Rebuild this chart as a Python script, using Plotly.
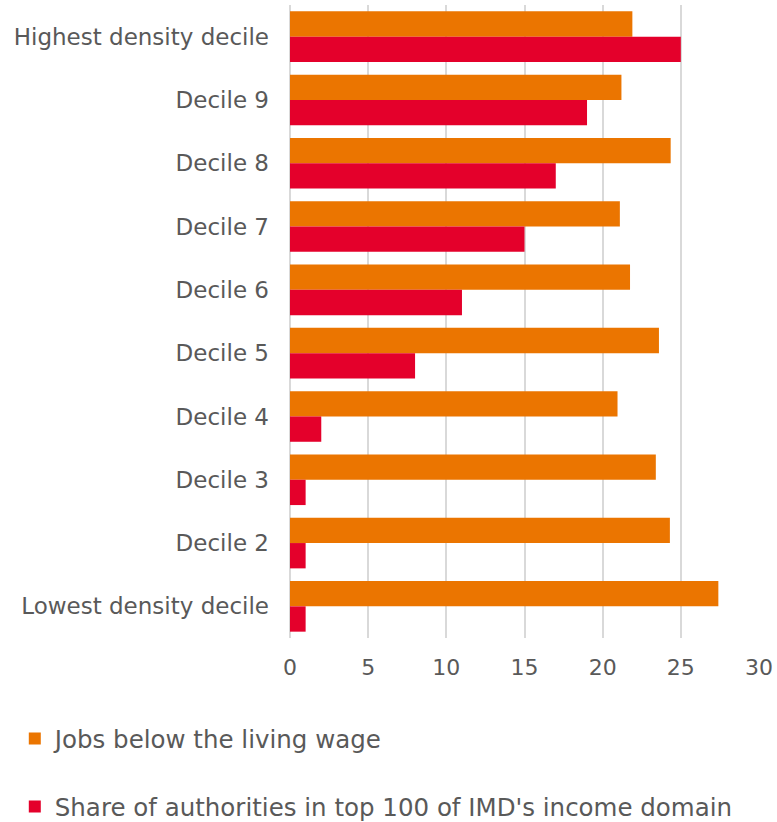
import plotly.graph_objects as go

categories = ["Highest density decile", "Decile 9", "Decile 8", "Decile 7", "Decile 6",
              "Decile 5", "Decile 4", "Decile 3", "Decile 2", "Lowest density decile"]
jobs_below_living_wage = [21.9, 21.2, 24.35, 21.1, 21.75, 23.6, 20.95, 23.4, 24.3, 27.4]
share_top100_imd_income = [25, 19, 17, 15, 11, 8, 2, 1, 1, 1]
x_ticks = [0, 5, 10, 15, 20, 25, 30]

FONT = "DejaVu Sans"
GREY = "#595959"

fig = go.Figure()
fig.add_trace(go.Bar(
    y=categories, x=jobs_below_living_wage, orientation="h",
    name="Jobs below the living wage", marker=dict(color="#EB7500", line=dict(width=0)),
    legend="legend",
))
fig.add_trace(go.Bar(
    y=categories, x=share_top100_imd_income, orientation="h",
    name="Share of authorities in top 100 of IMD's income domain",
    marker=dict(color="#E4002B", line=dict(width=0)),
    legend="legend2",
))

L, R, T, B = 289.5, 18, 5.4, 184.4
plot_h = 822 - T - B
plot_w = 777 - L - R

def py(pix):
    return (822 - B - pix) / plot_h

def px(pix):
    return (pix - L) / plot_w

fig.update_layout(
    width=777, height=822,
    margin=dict(l=L, r=R, t=T, b=B, autoexpand=False),
    plot_bgcolor="white", paper_bgcolor="white",
    barmode="group", bargap=0.2, bargroupgap=0,
    font=dict(family=FONT, size=22, color=GREY),
    xaxis=dict(range=[0, 30], tickvals=x_ticks, showgrid=True, gridcolor="#d9d9d9",
               gridwidth=2, zeroline=True, zerolinecolor="#d9d9d9", zerolinewidth=2,
               showline=False, ticks="", tickfont=dict(size=22, color=GREY),
               ticklabelstandoff=14),
    yaxis=dict(autorange="reversed", showgrid=False, showline=False, ticks="",
               tickfont=dict(size=23, color=GREY), ticklabelstandoff=20),
    legend=dict(x=px(14), xanchor="left", y=py(738), yanchor="middle",
                font=dict(size=24.5, color=GREY), bgcolor="rgba(0,0,0,0)"),
    legend2=dict(x=px(14), xanchor="left", y=py(806), yanchor="middle",
                 font=dict(size=24.5, color=GREY), bgcolor="rgba(0,0,0,0)"),
    showlegend=True,
)

fig.write_html("out.html", config={"displayModeBar": False},
               post_script="document.body.style.margin='0';")
